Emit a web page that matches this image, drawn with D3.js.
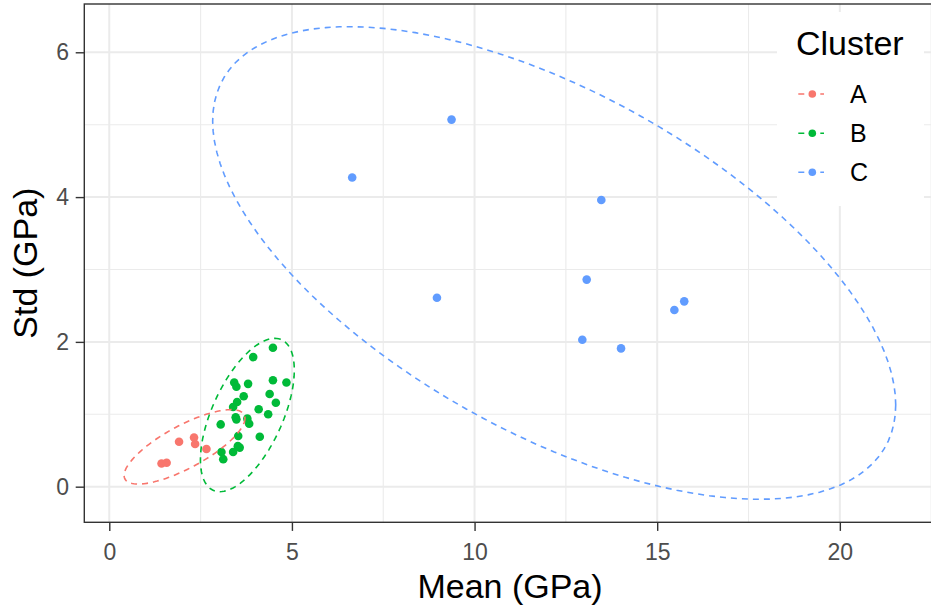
<!DOCTYPE html>
<html>
<head>
<meta charset="utf-8">
<script src="https://cdn.jsdelivr.net/npm/d3@7"></script>
<style>
  html, body { margin: 0; padding: 0; background: #fff; }
  svg { display: block; font-family: "Liberation Sans", Arial, sans-serif; }
</style>
</head>
<body>
<svg id="chart" width="931" height="613"></svg>
<script>
// Cluster labels and colours
const clusters = ["A", "B", "C"];
const clusterColors = ["#F8766D", "#00BA38", "#619CFF"];

// Mean (GPa) / Std (GPa) per sample, one pair of arrays per cluster
const meanA = [1.43, 1.57, 1.91, 2.32, 2.35, 2.66];
const stdA  = [0.32, 0.33, 0.62, 0.68, 0.59, 0.52];

const meanB = [4.48, 3.94, 3.42, 3.48, 3.80, 4.48, 4.85, 3.68, 4.39, 4.56, 3.50, 3.39, 4.09,
               4.35, 3.46, 3.48, 3.78, 3.83, 3.05, 3.53, 4.12, 3.57, 3.39, 3.07, 3.12, 3.52];
const stdB  = [1.92, 1.79, 1.44, 1.38, 1.42, 1.47, 1.44, 1.25, 1.28, 1.16, 1.17, 1.10, 1.07,
               1.00, 0.96, 0.93, 0.94, 0.87, 0.86, 0.70, 0.69, 0.54, 0.48, 0.48, 0.38, 0.56];

const meanC = [6.65, 9.37, 8.97, 13.47, 13.07, 12.95, 14.01, 15.47, 15.74];
const stdC  = [4.27, 5.07, 2.61, 3.96, 2.86, 2.03, 1.91, 2.44, 2.56];

// 95% confidence ellipses: centre plus two conjugate semi-axis vectors (data units)
const ellipseCenters = [[2.06, 0.55], [3.78, 0.99], [12.18, 3.09]];
const ellipseAxisU   = [[1.654, 0.394], [0.752, 1.059], [9.35, -1.96]];
const ellipseAxisV   = [[0, -0.33], [1.042, 0], [0, -2.61]];

// Axis ticks
const xMajor = [0, 5, 10, 15, 20];
const xMinor = [2.5, 7.5, 12.5, 17.5, 22.5];
const yMajor = [0, 2, 4, 6];
const yMinor = [1, 3, 5];

const svg = d3.select("#chart");
const panel = { left: 84.3, top: 4, right: 937, bottom: 522.3 };

const x = d3.scaleLinear().domain([-0.684, 22.66]).range([panel.left, panel.right]);
const y = d3.scaleLinear().domain([-0.492, 6.667]).range([panel.bottom, panel.top]);
const color = d3.scaleOrdinal().domain(clusters).range(clusterColors);

// Grid
const grid = svg.append("g");
grid.selectAll(".xminor").data(xMinor).join("line")
  .attr("x1", d => x(d)).attr("x2", d => x(d))
  .attr("y1", panel.top).attr("y2", panel.bottom)
  .attr("stroke", "#EBEBEB").attr("stroke-width", 1.1);
grid.selectAll(".yminor").data(yMinor).join("line")
  .attr("y1", d => y(d)).attr("y2", d => y(d))
  .attr("x1", panel.left).attr("x2", panel.right)
  .attr("stroke", "#EBEBEB").attr("stroke-width", 1.1);
grid.selectAll(".xmajor").data(xMajor).join("line")
  .attr("x1", d => x(d)).attr("x2", d => x(d))
  .attr("y1", panel.top).attr("y2", panel.bottom)
  .attr("stroke", "#EBEBEB").attr("stroke-width", 2);
grid.selectAll(".ymajor").data(yMajor).join("line")
  .attr("y1", d => y(d)).attr("y2", d => y(d))
  .attr("x1", panel.left).attr("x2", panel.right)
  .attr("stroke", "#EBEBEB").attr("stroke-width", 2);

// Points
const series = [
  { key: "A", mean: meanA, std: stdA },
  { key: "B", mean: meanB, std: stdB },
  { key: "C", mean: meanC, std: stdC }
];
const pts = series.flatMap(s => s.mean.map((m, i) => ({ key: s.key, mean: m, std: s.std[i] })));
svg.append("g").selectAll("circle").data(pts).join("circle")
  .attr("cx", d => x(d.mean)).attr("cy", d => y(d.std))
  .attr("r", 4.3).attr("fill", d => color(d.key));

// Ellipses
const line = d3.line().x(p => x(p[0])).y(p => y(p[1])).curve(d3.curveLinearClosed);
const ellipses = clusters.map((k, i) => {
  const c = ellipseCenters[i], u = ellipseAxisU[i], v = ellipseAxisV[i];
  const ring = d3.range(120).map(j => {
    const t = j / 120 * 2 * Math.PI;
    return [c[0] + u[0] * Math.cos(t) + v[0] * Math.sin(t),
            c[1] + u[1] * Math.cos(t) + v[1] * Math.sin(t)];
  });
  return { key: k, ring };
});
svg.append("g").selectAll("path").data(ellipses).join("path")
  .attr("d", d => line(d.ring))
  .attr("fill", "none")
  .attr("stroke", d => color(d.key))
  .attr("stroke-width", 1.6)
  .attr("stroke-dasharray", "6,5");

// Panel border
svg.append("rect")
  .attr("x", panel.left).attr("y", panel.top)
  .attr("width", panel.right - panel.left).attr("height", panel.bottom - panel.top)
  .attr("fill", "none").attr("stroke", "#333333").attr("stroke-width", 1.4);

// Axes
const xAxis = svg.append("g")
  .attr("transform", `translate(0,${panel.bottom})`)
  .call(d3.axisBottom(x).tickValues(xMajor).tickSize(8.6).tickPadding(13).tickFormat(d3.format("d")));
const yAxis = svg.append("g")
  .attr("transform", `translate(${panel.left},0)`)
  .call(d3.axisLeft(y).tickValues(yMajor).tickSize(8.6).tickPadding(6.7).tickFormat(d3.format("d")));
[xAxis, yAxis].forEach(a => {
  a.select(".domain").remove();
  a.selectAll(".tick line").attr("stroke", "#333333").attr("stroke-width", 1.4);
  a.selectAll(".tick text").attr("fill", "#4D4D4D")
    .style("font-size", "23px").style("font-family", "'Liberation Sans', Arial, sans-serif");
});

// Axis titles
svg.append("text")
  .attr("x", 510).attr("y", 598.3)
  .attr("text-anchor", "middle").style("font-size", "34px").attr("fill", "#000")
  .text("Mean (GPa)");
svg.append("text")
  .attr("transform", `translate(37.3,${(panel.top + panel.bottom) / 2}) rotate(-90)`)
  .attr("text-anchor", "middle").style("font-size", "34px").attr("fill", "#000")
  .text("Std (GPa)");

// Legend
const legend = svg.append("g");
legend.append("rect").attr("x", 777).attr("y", 12).attr("width", 147).attr("height", 194)
  .attr("fill", "#fff");
legend.append("text").attr("x", 796).attr("y", 55)
  .style("font-size", "34px").attr("fill", "#000").text("Cluster");
const keyY = [94, 133.3, 172.3];
const items = legend.selectAll(".item").data(clusters).join("g")
  .attr("transform", (d, i) => `translate(0,${keyY[i]})`);
items.append("line").attr("x1", 798.3).attr("x2", 824).attr("y1", 0).attr("y2", 0)
  .attr("stroke", d => color(d)).attr("stroke-width", 1.6).attr("stroke-dasharray", "6,5");
items.append("circle").attr("cx", 812.3).attr("cy", 0).attr("r", 3.8).attr("fill", d => color(d));
items.append("text").attr("x", 850).attr("y", 0).attr("dy", "0.36em")
  .style("font-size", "25px").attr("fill", "#000").text(d => d);
</script>
</body>
</html>
